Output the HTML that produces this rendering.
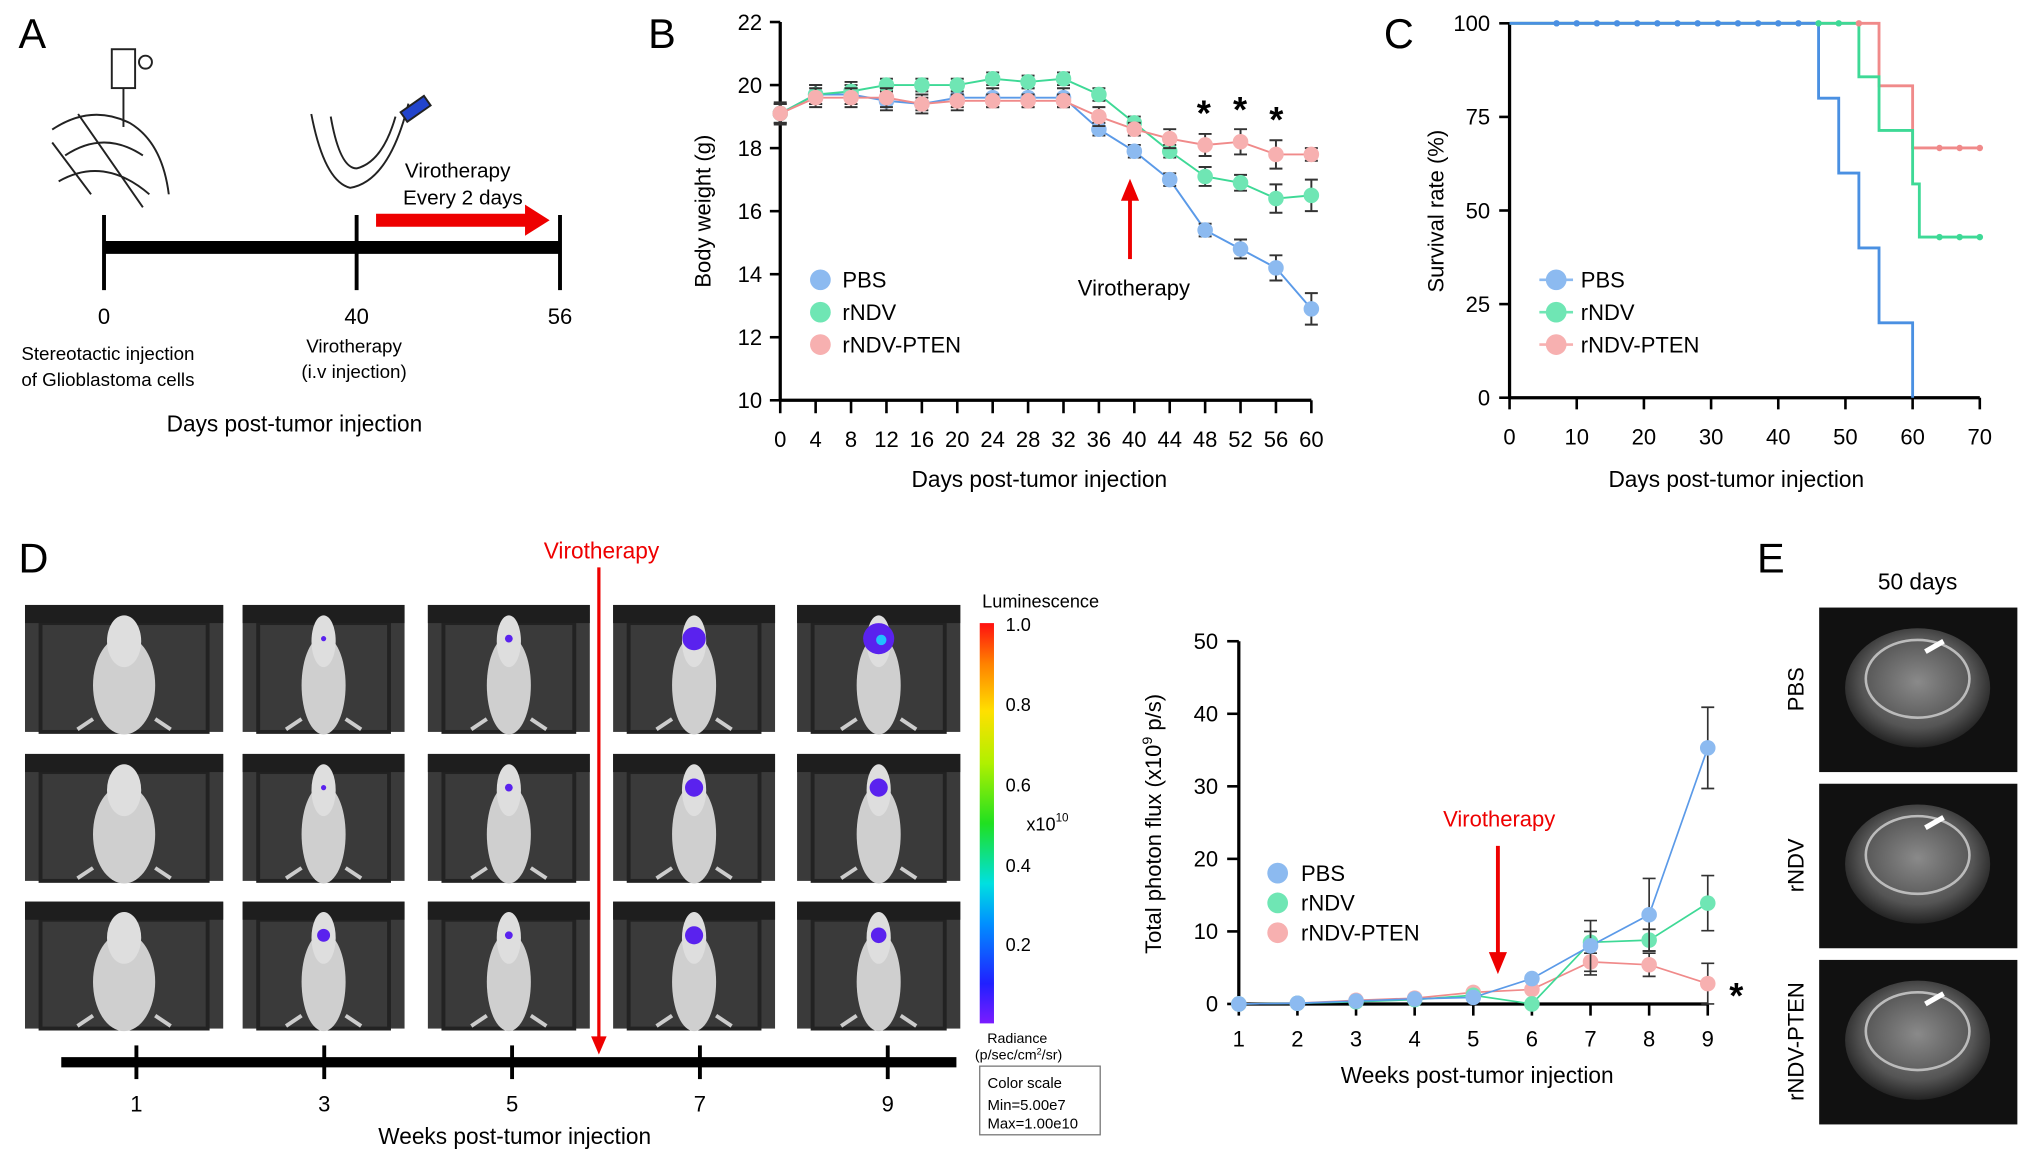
<!DOCTYPE html>
<html><head><meta charset="utf-8"><style>
html,body{margin:0;padding:0;background:#fff;}
svg{display:block;font-family:"Liberation Sans",Arial,sans-serif;}
</style></head><body>
<svg id="fig" width="2032" height="1162" viewBox="0 0 1568 897" xmlns="http://www.w3.org/2000/svg">
<defs>
<linearGradient id="cbar" x1="0" y1="1" x2="0" y2="0">
<stop offset="0" stop-color="#7a1cff"/><stop offset="0.1" stop-color="#2020ff"/><stop offset="0.25" stop-color="#0090ff"/><stop offset="0.35" stop-color="#00e0e0"/><stop offset="0.5" stop-color="#20e020"/><stop offset="0.65" stop-color="#b0f000"/><stop offset="0.78" stop-color="#ffe000"/><stop offset="0.9" stop-color="#ff8000"/><stop offset="1" stop-color="#ff1010"/>
</linearGradient>
<radialGradient id="mri" cx="0.5" cy="0.45" r="0.55"><stop offset="0" stop-color="#8a8a8a"/><stop offset="0.7" stop-color="#555"/><stop offset="1" stop-color="#222"/></radialGradient>
</defs>

<text x="14" y="37" font-size="32">A</text>
<text x="500" y="37" font-size="32">B</text>
<text x="1068" y="37" font-size="32">C</text>
<text x="14" y="442" font-size="32">D</text>
<text x="1356" y="442" font-size="32">E</text>

<g>
 <g fill="none" stroke="#222" stroke-width="1.5">
  <rect x="86" y="38" width="18" height="30"/><line x1="95" y1="68" x2="95" y2="98"/><circle cx="112" cy="48" r="5"/>
  <path d="M40,100 Q70,80 100,95 Q125,110 130,150 M50,120 Q80,100 110,120 M45,140 Q80,120 115,150 M60,88 L110,160 M40,110 L70,150"/>
 </g>
 <g fill="none" stroke="#222" stroke-width="1.5">
  <path d="M240,88 Q250,140 270,145 Q300,140 315,80 M255,90 Q262,130 275,130 Q295,125 305,90"/>
  <rect x="310" y="80" width="22" height="9" fill="#2244cc" transform="rotate(-35 320 85)"/>
 </g>
 <text x="353" y="137" font-size="16" text-anchor="middle">Virotherapy</text>
 <text x="357" y="158" font-size="16" text-anchor="middle">Every 2 days</text>
 <line x1="290" y1="170" x2="410" y2="170" stroke="#e00" stroke-width="10"/>
 <path d="M405,158 L424,170 L405,182 z" fill="#e00"/>
 <line x1="80" y1="191" x2="432" y2="191" stroke="#000" stroke-width="10"/>
 <line x1="80" y1="166" x2="80" y2="224" stroke="#000" stroke-width="3"/>
 <line x1="275" y1="166" x2="275" y2="224" stroke="#000" stroke-width="3"/>
 <line x1="432" y1="166" x2="432" y2="224" stroke="#000" stroke-width="3"/>
 <text x="80" y="250" font-size="17" text-anchor="middle">0</text>
 <text x="275" y="250" font-size="17" text-anchor="middle">40</text>
 <text x="432" y="250" font-size="17" text-anchor="middle">56</text>
 <text x="83" y="278" font-size="14.5" text-anchor="middle">Stereotactic injection</text>
 <text x="83" y="298" font-size="14.5" text-anchor="middle">of Glioblastoma cells</text>
 <text x="273" y="272" font-size="14.5" text-anchor="middle">Virotherapy</text>
 <text x="273" y="292" font-size="14.5" text-anchor="middle">(i.v injection)</text>
 <text x="227" y="333" font-size="17.5" text-anchor="middle">Days post-tumor injection</text>
</g>

<g id="chartB"></g>
<g id="chartC"></g>
<g id="chartD"></g>
<g id="imgs"></g>

<text x="464" y="431" font-size="17.5" fill="#e00" text-anchor="middle">Virotherapy</text>
<line x1="462" y1="438" x2="462" y2="805" stroke="#e00" stroke-width="2.5"/>
<path d="M456,800 L462,814 L468,800 z" fill="#e00"/>
<line x1="47" y1="820" x2="738" y2="820" stroke="#000" stroke-width="8"/>
<text x="397" y="883" font-size="17.5" text-anchor="middle">Weeks post-tumor injection</text>
<text x="803" y="469" font-size="14" text-anchor="middle">Luminescence</text>
<rect x="756" y="481" width="11" height="309" fill="url(#cbar)"/>
<g font-size="14">
<text x="776" y="487">1.0</text><text x="776" y="549">0.8</text><text x="776" y="611">0.6</text><text x="776" y="673">0.4</text><text x="776" y="734">0.2</text>
<text x="792" y="641">x10<tspan font-size="9" dy="-7">10</tspan></text>
</g>
<text x="785" y="805" font-size="11" text-anchor="middle">Radiance</text>
<text x="786" y="818" font-size="11" text-anchor="middle">(p/sec/cm<tspan font-size="7" dy="-4">2</tspan><tspan dy="4">/sr)</tspan></text>
<rect x="756" y="823" width="93" height="53" fill="#fff" stroke="#777"/>
<text x="762" y="840" font-size="11.5">Color scale</text>
<text x="762" y="857" font-size="11.5">Min=5.00e7</text>
<text x="762" y="871" font-size="11.5">Max=1.00e10</text>

<g>
 <text x="1480" y="455" font-size="17.5" text-anchor="middle">50 days</text>
 <g id="mriG"></g>
</g>

<script>
const NS="http://www.w3.org/2000/svg";
function mk(tag,attrs,parent,txt){const e=document.createElementNS(NS,tag);for(const k in attrs)e.setAttribute(k,attrs[k]);if(txt!==undefined)e.textContent=txt;parent.appendChild(e);return e;}
const C_PBS="#8cbaf0",C_NDV="#6fe6b4",C_PT="#f7b0b0";
const C_PBSl="#5b9ae8",C_NDVl="#3ed996",C_PTl="#f08a8a";

const bDays=[0,4,8,12,16,20,24,28,32,36,40,44,48,52,56,60];
const bPBS=[19.1,19.7,19.7,19.5,19.4,19.6,19.6,19.6,19.6,18.6,17.9,17.0,15.4,14.8,14.2,12.9];
const bPBSerr=[0.35,0.3,0.3,0.3,0.3,0.4,0.3,0.3,0.3,0.2,0.2,0.2,0.2,0.3,0.4,0.5];
const bNDV=[19.1,19.7,19.8,20.0,20.0,20.0,20.2,20.1,20.2,19.7,18.8,17.9,17.1,16.9,16.4,16.5];
const bNDVerr=[0.3,0.3,0.3,0.2,0.2,0.2,0.2,0.2,0.2,0.2,0.2,0.2,0.3,0.25,0.45,0.5];
const bPT=[19.1,19.6,19.6,19.6,19.4,19.5,19.5,19.5,19.5,19.0,18.6,18.3,18.1,18.2,17.8,17.8];
const bPTerr=[0.3,0.3,0.3,0.3,0.2,0.2,0.2,0.2,0.2,0.3,0.2,0.3,0.35,0.4,0.45,0.2];
const bYTicks=[10,12,14,16,18,20,22];
(function(){
 const g=document.getElementById('chartB');
 const x=d=>602+(d-0)/60*410, y=v=>309-(v-10)/12*292;
 mk('line',{x1:602,y1:y(22),x2:602,y2:y(10),stroke:'#000','stroke-width':2.5},g);
 mk('line',{x1:602,y1:y(10),x2:1012,y2:y(10),stroke:'#000','stroke-width':2.5},g);
 bYTicks.forEach(t=>{mk('line',{x1:594,y1:y(t),x2:602,y2:y(t),stroke:'#000','stroke-width':2},g);mk('text',{x:588,y:y(t)+6,'font-size':17,'text-anchor':'end'},g,t);});
 bDays.forEach(d=>{mk('line',{x1:x(d),y1:y(10),x2:x(d),y2:y(10)+10,stroke:'#000','stroke-width':2},g);mk('text',{x:x(d),y:y(10)+36,'font-size':17,'text-anchor':'middle'},g,d);});
 const yt=mk('text',{x:0,y:0,'font-size':17,'text-anchor':'middle',transform:'translate(548,163) rotate(-90)'},g,'Body weight (g)');
 
 
 mk('text',{x:802,y:376,'font-size':17.5,'text-anchor':'middle'},g,'Days post-tumor injection');
 [[bPBS,bPBSerr,C_PBS,C_PBSl],[bNDV,bNDVerr,C_NDV,C_NDVl],[bPT,bPTerr,C_PT,C_PTl]].forEach(([vals,err,c,cl])=>{
  mk('polyline',{points:vals.map((v,i)=>x(bDays[i])+','+y(v)).join(' '),fill:'none',stroke:cl,'stroke-width':1.5},g);
  vals.forEach((v,i)=>{
   const xx=x(bDays[i]);
   mk('path',{d:`M${xx},${y(v+err[i])}V${y(v-err[i])}M${xx-5},${y(v+err[i])}h10M${xx-5},${y(v-err[i])}h10`,stroke:'#333','stroke-width':1.5,fill:'none'},g);
   const p=mk('circle',{cx:xx,cy:y(v),r:6,fill:c},g);
   
   
  });
 });
 [['PBS',C_PBS],['rNDV',C_NDV],['rNDV-PTEN',C_PT]].forEach(([n,c],i)=>{
  mk('circle',{cx:633,cy:216+i*25,r:8,fill:c},g);mk('text',{x:650,y:222+i*25,'font-size':17},g,n);
 });
 mk('text',{x:875,y:228,'font-size':17,'text-anchor':'middle'},g,'Virotherapy');
 mk('line',{x1:872,y1:200,x2:872,y2:152,stroke:'#e00','stroke-width':3},g);
 mk('path',{d:'M865,155 L872,138 L879,155 z',fill:'#e00'},g);
 [[929,97],[957,94],[985,102]].forEach(([a,b])=>mk('text',{x:a,y:b,'font-size':28,'text-anchor':'middle','font-weight':'bold'},g,'*'));
})();

const cPBS=[[0,100],[46,100],[46,80],[49,80],[49,60],[52,60],[52,40],[55,40],[55,20],[60,20],[60,0]];
const cNDV=[[0,100],[52,100],[52,85.7],[55,85.7],[55,71.4],[60,71.4],[60,57.1],[61,57.1],[61,42.9],[70,42.9]];
const cPT=[[0,100],[55,100],[55,83.3],[60,83.3],[60,66.7],[70,66.7]];
const cCensorPBS=[7,10,13,16,19,22,25,28,31,34,37,40,43];
const cCensorNDV=[46,49,64,67,70];
const cCensorPT=[52,64,67,70];
(function(){
 const g=document.getElementById('chartC');
 const x=d=>1165+d/70*363, y=v=>307-v/100*289;
 mk('line',{x1:1165,y1:y(100),x2:1165,y2:y(0),stroke:'#000','stroke-width':2.5},g);
 mk('line',{x1:1165,y1:y(0),x2:1528,y2:y(0),stroke:'#000','stroke-width':2.5},g);
 [0,25,50,75,100].forEach(t=>{mk('line',{x1:1157,y1:y(t),x2:1165,y2:y(t),stroke:'#000','stroke-width':2},g);mk('text',{x:1150,y:y(t)+6,'font-size':17,'text-anchor':'end'},g,t);});
 [0,10,20,30,40,50,60,70].forEach(t=>{mk('line',{x1:x(t),y1:y(0),x2:x(t),y2:y(0)+9,stroke:'#000','stroke-width':2},g);mk('text',{x:x(t),y:y(0)+36,'font-size':17,'text-anchor':'middle'},g,t);});
 mk('text',{x:0,y:0,'font-size':17,'text-anchor':'middle',transform:'translate(1114,163) rotate(-90)'},g,'Survival rate (%)');
 mk('text',{x:1340,y:376,'font-size':17.5,'text-anchor':'middle'},g,'Days post-tumor injection');
 const step=(pts,col)=>{const s=mk('polyline',{points:pts.map(p=>x(p[0])+','+y(p[1])).join(' '),fill:'none',stroke:col,'stroke-width':2.2},g);
  
  };
 const val=(pts,d)=>{let v=100;pts.forEach(p=>{if(p[0]<=d)v=p[1];});return v;};
 step(cPT,C_PTl);step(cNDV,C_NDVl);step(cPBS,'#4a90e2');
 [[cCensorPBS,cPBS,'#4a90e2'],[cCensorNDV,cNDV,C_NDVl],[cCensorPT,cPT,C_PTl]].forEach(([cs,pts,c])=>cs.forEach(d=>mk('circle',{cx:x(d),cy:y(val(pts,d)),r:2.5,fill:c},g)));
 [['PBS',C_PBS],['rNDV',C_NDV],['rNDV-PTEN',C_PT]].forEach(([n,c],i)=>{
  mk('line',{x1:1188,y1:216+i*25,x2:1214,y2:216+i*25,stroke:c,'stroke-width':2},g);
  mk('circle',{cx:1201,cy:216+i*25,r:8,fill:c},g);mk('text',{x:1220,y:222+i*25,'font-size':17},g,n);
 });
})();

const dWeeks=[1,2,3,4,5,6,7,8,9];
const dPBS=[0,0.1,0.4,0.7,0.9,3.5,8.0,12.3,35.3];
const dPBSerr=[0,0.1,0.2,0.3,0.3,0.5,3.5,5.0,5.6];
const dNDV=[0,0.1,0.3,0.6,1.2,0,8.5,8.8,13.9];
const dNDVerr=[0,0.1,0.2,0.3,0.4,0.2,1.5,1.5,3.8];
const dPT=[0,0.1,0.5,0.8,1.6,2.0,5.8,5.4,2.8];
const dPTerr=[0,0.1,0.2,0.3,0.4,0.5,1.8,1.6,2.8];
const dYTicks=[0,10,20,30,40,50];
(function(){
 const g=document.getElementById('chartD');
 const x=w=>956+(w-1)/8*362, y=v=>775-v/50*280;
 mk('line',{x1:956,y1:y(50),x2:956,y2:y(0),stroke:'#000','stroke-width':2.5},g);
 mk('line',{x1:956,y1:y(0),x2:1318,y2:y(0),stroke:'#000','stroke-width':2.5},g);
 dYTicks.forEach(t=>{mk('line',{x1:947,y1:y(t),x2:956,y2:y(t),stroke:'#000','stroke-width':2},g);mk('text',{x:940,y:y(t)+6,'font-size':17,'text-anchor':'end'},g,t);});
 dWeeks.forEach(w=>{mk('line',{x1:x(w),y1:y(0),x2:x(w),y2:y(0)+9,stroke:'#000','stroke-width':2},g);mk('text',{x:x(w),y:y(0)+33,'font-size':17,'text-anchor':'middle'},g,w);});
 const t=mk('text',{x:0,y:0,'font-size':17,'text-anchor':'middle',transform:'translate(896,636) rotate(-90)'},g);
 
 
 mk('tspan',{},t,'Total photon flux (x10');
 mk('tspan',{'font-size':11,dy:-7},t,'9');
 mk('tspan',{dy:7},t,' p/s)');
 mk('text',{x:1140,y:836,'font-size':17.5,'text-anchor':'middle'},g,'Weeks post-tumor injection');
 [[dPT,dPTerr,C_PT,C_PTl],[dNDV,dNDVerr,C_NDV,C_NDVl],[dPBS,dPBSerr,C_PBS,C_PBSl]].forEach(([vals,err,c,cl])=>{
  mk('polyline',{points:vals.map((v,i)=>x(dWeeks[i])+','+y(v)).join(' '),fill:'none',stroke:cl,'stroke-width':1.3},g);
  vals.forEach((v,i)=>{const xx=x(dWeeks[i]);
   if(err[i]>0.6)mk('path',{d:`M${xx},${y(v+err[i])}V${y(v-err[i])}M${xx-5},${y(v+err[i])}h10M${xx-5},${y(v-err[i])}h10`,stroke:'#333','stroke-width':1.3,fill:'none'},g);
   const p=mk('circle',{cx:xx,cy:y(v),r:6,fill:c},g);
   
   });
 });
 [['PBS',C_PBS],['rNDV',C_NDV],['rNDV-PTEN',C_PT]].forEach(([n,c],i)=>{
  mk('circle',{cx:986,cy:674+i*23,r:8,fill:c},g);mk('text',{x:1004,y:680+i*23,'font-size':17},g,n);
 });
 mk('text',{x:1157,y:638,'font-size':17,'text-anchor':'middle',fill:'#e00'},g,'Virotherapy');
 mk('line',{x1:1156,y1:653,x2:1156,y2:738,stroke:'#e00','stroke-width':3},g);
 mk('path',{d:'M1149,735 L1156,752 L1163,735 z',fill:'#e00'},g);
 mk('text',{x:1340,y:778,'font-size':28,'text-anchor':'middle','font-weight':'bold'},g,'*');
})();

const colX=[19,187,330,473,615], colW=[153,125,125,125,126];
const rowY=[467,582,696], rowNames=['PBS','rNDV','rNDV-PTEN'];
const spot=[[0,2,3,9,12],[0,2,3,7,7],[0,5,3,7,6]];
(function(){
 const g=document.getElementById('imgs');
 rowY.forEach((ry,r)=>{
  const lbl=mk('text',{x:0,y:0,'font-size':17,'text-anchor':'middle',transform:`translate(37,${ry+49}) rotate(-90)`},g,rowNames[r]);
  
  
  colX.forEach((cx,c)=>{
   const w=colW[c], mx=cx+w/2;
   const im=mk('g',{},g);
   
   
   mk('rect',{x:cx,y:ry,width:w,height:98,fill:'#3a3a3a'},im);
   mk('rect',{x:cx+12,y:ry+14,width:w-24,height:84,fill:'none',stroke:'#222','stroke-width':3},im);
   mk('rect',{x:cx,y:ry,width:w,height:14,fill:'#1e1e1e'},im);
   const bw=c===0?24:17;
   mk('ellipse',{cx:mx,cy:ry+62,rx:bw,ry:38,fill:'#cfcfcf'},im);
   mk('ellipse',{cx:mx,cy:ry+28,rx:bw*0.55,ry:20,fill:'#dedede'},im);
   mk('path',{d:`M${mx-bw},${ry+88} l-12,8 M${mx+bw},${ry+88} l12,8`,stroke:'#ccc','stroke-width':3},im);
   if(spot[r][c]>0){mk('circle',{cx:mx,cy:ry+26,r:spot[r][c],fill:'#5a22ee'},im);
    if(spot[r][c]>10)mk('circle',{cx:mx+2,cy:ry+27,r:4,fill:'#20c0ff'},im);}
  });
 });
 [105,250,395,540,685].forEach((tx,i)=>{mk('line',{x1:tx,y1:807,x2:tx,y2:833,stroke:'#000','stroke-width':3},g);mk('text',{x:tx,y:858,'font-size':17,'text-anchor':'middle'},g,[1,3,5,7,9][i]);});
})();

(function(){
 const g=document.getElementById('mriG');
 const ys=[469,605,741], n=['PBS','rNDV','rNDV-PTEN'];
 ys.forEach((yy,i)=>{
  const im=mk('g',{},g);
  
  
  mk('rect',{x:1404,y:yy,width:153,height:127,fill:'#111'},im);
  mk('ellipse',{cx:1480,cy:yy+62,rx:56,ry:46,fill:'url(#mri)'},im);
  mk('ellipse',{cx:1480,cy:yy+55,rx:40,ry:30,fill:'none',stroke:'#bbb','stroke-width':2},im);
  mk('path',{d:`M1500,${yy+26} l-14,8`,stroke:'#fff','stroke-width':4},im);
  mk('text',{x:0,y:0,'font-size':17,'text-anchor':'middle',transform:`translate(1392,${yy+63}) rotate(-90)`},g,n[i]);
 });
})();
</script>
</svg>
</body></html>
